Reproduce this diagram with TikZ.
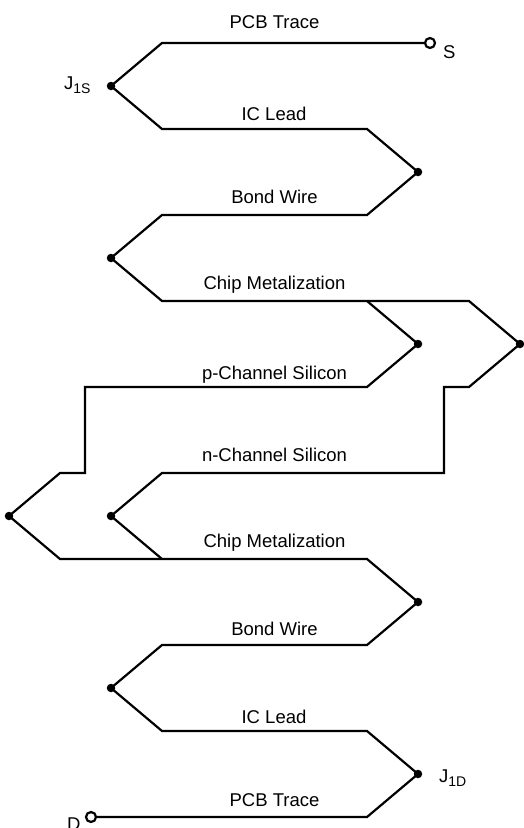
\documentclass[tikz,border=0pt]{standalone}
\usepackage{fontspec}
\setmainfont{Liberation Sans}
\newcommand{\subtxt}[1]{\raisebox{-4pt}{\fontsize{14}{14}\selectfont #1}}
\tikzset{
  x=1pt,y=-1pt,
  trace/.style={line width=2.2pt,line join=miter,black},
  jdot/.style={circle,fill=black,inner sep=0pt,minimum size=8.5pt},
  term/.style={circle,draw=black,fill=white,line width=2.2pt,inner sep=0pt,minimum size=10pt},
  lbl/.style={anchor=base,inner sep=0pt,font=\fontsize{18.5}{20}\selectfont,text=black},
}
\begin{document}
\begin{tikzpicture}
\useasboundingbox (0,0) rectangle (524,828);
% junction dots and terminals
\node[term] (S) at (430,43) {};
\node[jdot] (J1S) at (111,86) {};
\node[jdot] (A) at (418,172) {};
\node[jdot] (B) at (111,258) {};
\node[jdot] (C) at (418,344) {};
\node[jdot] (E) at (520,344) {};
\node[jdot] (F) at (9,516) {};
\node[jdot] (G) at (111,516) {};
\node[jdot] (H) at (418,602) {};
\node[jdot] (I) at (111,688) {};
\node[jdot] (J1D) at (418,774) {};
\node[term] (D) at (91,817) {};
% branch point
\coordinate (T) at (367,301);
\coordinate (U) at (162,559);
% connectors
\draw[trace] (S) -- (162,43) -- (J1S.center) -- (162,129) -- (367,129) -- (A.center) -- (367,215) -- (162,215) -- (B.center) -- (162,301) -- (T);
\draw[trace] (T) -- (C.center) -- (367,387) -- (85,387) -- (85,473) -- (60,473) -- (F.center) -- (60,559) -- (U);
\draw[trace] (T) -- (469,301) -- (E.center) -- (469,387) -- (444,387) -- (444,473) -- (162,473) -- (G.center) -- (U);
\draw[trace] (U) -- (367,559) -- (H.center) -- (367,645) -- (162,645) -- (I.center) -- (162,731) -- (367,731) -- (J1D.center) -- (367,817) -- (D);
% labels
\node[lbl] (l1) at (274.5,28) {PCB Trace};
\node[lbl] (l2) at (274,120.5) {IC Lead};
\node[lbl] (l3) at (274.5,203) {Bond Wire};
\node[lbl] (l4) at (274.5,289) {Chip Metalization};
\node[lbl] (l5) at (274.5,379) {p-Channel Silicon};
\node[lbl] (l6) at (274.5,461) {n-Channel Silicon};
\node[lbl] (l7) at (274.5,547) {Chip Metalization};
\node[lbl] (l8) at (274.5,635) {Bond Wire};
\node[lbl] (l9) at (274,723) {IC Lead};
\node[lbl] (l10) at (274.5,806.5) {PCB Trace};
\node[lbl,anchor=base west] (t1) at (64,89) {J\subtxt{1S}};
\node[lbl,anchor=base west] (t2) at (443,58) {S};
\node[lbl,anchor=base west] (t3) at (439,782) {J\subtxt{1D}};
\node[lbl,anchor=base west] (t4) at (67,830) {D};
\end{tikzpicture}
\end{document}
